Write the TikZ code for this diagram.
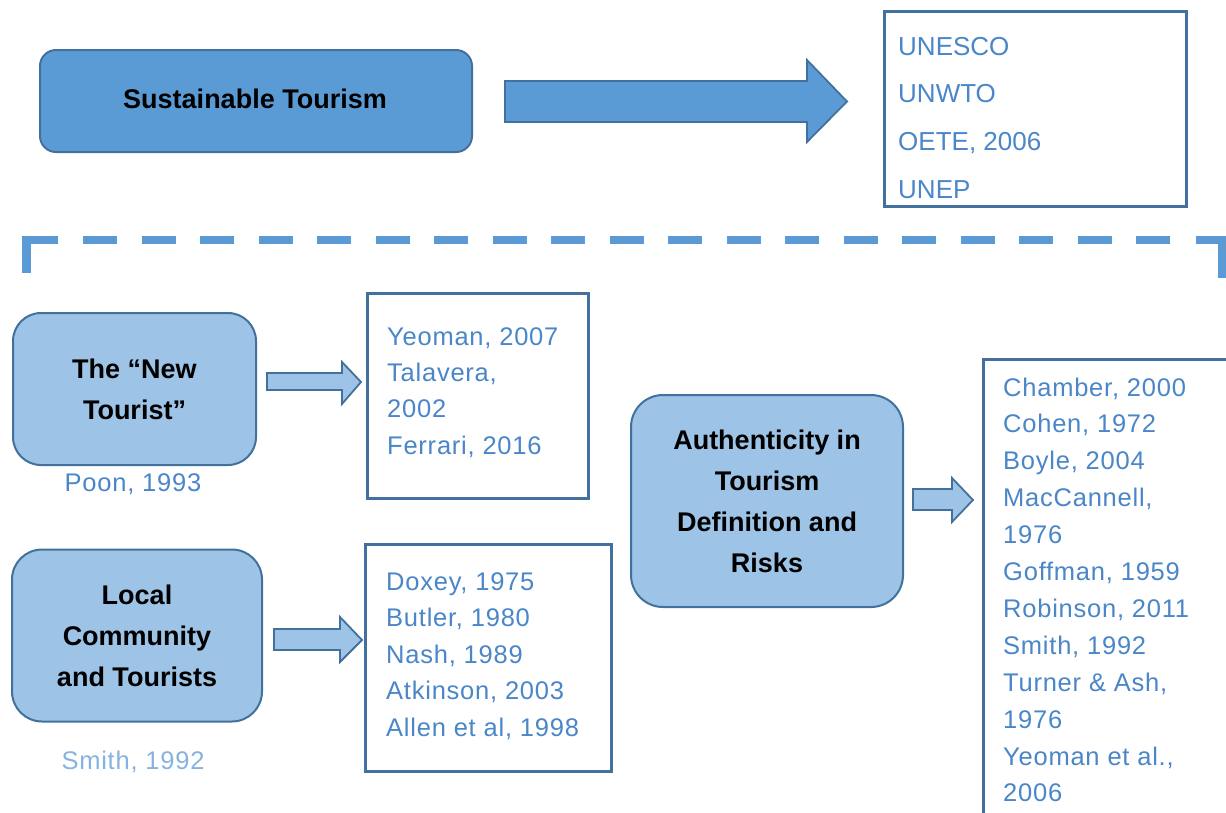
\documentclass[tikz,border=0pt]{standalone}
\usepackage{fontspec}
\setmainfont{Liberation Sans}
\definecolor{edge}{HTML}{41719C}
\definecolor{mid}{HTML}{5B9BD5}
\definecolor{light}{HTML}{9DC3E6}
\definecolor{txtblue}{HTML}{4A86C8}
\definecolor{txtlight}{HTML}{86B2E0}
\begin{document}
\begin{tikzpicture}[x=1pt,y=-1pt,
  rbox/.style={draw=edge, line width=2pt, fill=light, align=center, inner sep=0pt,
    font=\bfseries\fontsize{27}{41}\selectfont},
  lbox/.style={draw=edge, line width=2.5pt, fill=white, anchor=north west, inner sep=0pt},
  lst/.style={anchor=base west, inner sep=0pt, text=txtblue, font=\fontsize{25.5}{30}\selectfont\addfontfeature{LetterSpace=3}},
  cite/.style={inner sep=0pt, font=\fontsize{25.5}{30}\selectfont\addfontfeature{LetterSpace=3}},
  barrow/.style={draw=edge, line width=1.8pt, fill=light, line join=miter},
  dashline/.style={draw=mid, line width=8.5pt}]
\useasboundingbox (0,0) rectangle (1226,812);
\clip (0,0) rectangle (1226,812);

% top row
\node[rbox, fill=mid, rounded corners=16pt, minimum width=432pt, minimum height=102pt] (st) at (256,101) {};
\node[inner sep=0pt, anchor=base, font=\bfseries\fontsize{27}{41}\selectfont] (stt) at (255,108) {Sustainable Tourism};
\draw[barrow, fill=mid] (505,81) -- (807,81) -- (807,60) -- (847,101.5) -- (807,142) -- (807,122) -- (505,122) -- cycle;
\node[lbox, minimum width=302pt, minimum height=195pt] (un) at (883,10) {};
\foreach \t [count=\i] in {UNESCO, UNWTO, {OETE, 2006}, UNEP}
  \node[lst, font=\fontsize{26}{30}\selectfont] (un\i) at (898,{55+(\i-1)*47.8}) {\t};

% dashed bracket
\coordinate (dl0) at (26.5,273);
\coordinate (dl1) at (26.5,240);
\coordinate (dl2) at (58,240);
\coordinate (dm1) at (83,240);
\coordinate (dm2) at (1170,240);
\coordinate (dr1) at (1196,240);
\coordinate (dr2) at (1222,240);
\coordinate (dr3) at (1222,278);
\draw[dashline, line join=miter] (dl0) -- (dl1) -- (dl2);
\draw[dashline, dash pattern=on 34pt off 24.5pt] (dm1) -- (dm2);
\draw[dashline, line join=miter] (dr1) -- (dr2) -- (dr3);

% New tourist
\node[rbox, rounded corners=28pt, minimum width=243pt, minimum height=152pt] (nt) at (134.5,389) {The “New\\Tourist”};
\node[cite, text=txtblue] (poon) at (133,484) {Poon, 1993};
\draw[barrow] (267,373) -- (342,373) -- (342,362) -- (361,382) -- (342,404) -- (342,390) -- (267,390) -- cycle;
\node[lbox, minimum width=221pt, minimum height=205pt] (yb) at (366,292) {};
\foreach \t [count=\i] in {{Yeoman, 2007}, {Talavera,}, 2002, {Ferrari, 2016}}
  \node[lst] (ye\i) at (387,{345+(\i-1)*36.4}) {\t};

% Local community
\node[rbox, rounded corners=30pt, minimum width=250pt, minimum height=172pt] (lc) at (137,635.5) {Local\\Community\\and Tourists};
\node[cite, text=txtlight] (smith) at (133,762) {Smith, 1992};
\draw[barrow] (274,629) -- (340,629) -- (340,617) -- (362,640) -- (340,662) -- (340,650) -- (274,650) -- cycle;
\node[lbox, minimum width=246pt, minimum height=227pt] (db) at (364,543) {};
\foreach \t [count=\i] in {{Doxey, 1975}, {Butler, 1980}, {Nash, 1989}, {Atkinson, 2003}, {Allen et al, 1998}}
  \node[lst] (dx\i) at (386,{590+(\i-1)*36.6}) {\t};

% Authenticity
\node[rbox, rounded corners=32pt, minimum width=272pt, minimum height=212pt] (au) at (767,501) {Authenticity in\\Tourism\\Definition and\\Risks};
\draw[barrow] (913,489) -- (952,489) -- (952,478) -- (973,500) -- (952,522) -- (952,510) -- (913,510) -- cycle;
\node[lbox, minimum width=270pt, minimum height=480pt] (cb) at (982,358) {};
\foreach \t [count=\i] in {{Chamber, 2000}, {Cohen, 1972}, {Boyle, 2004}, {MacCannell,}, 1976, {Goffman, 1959}, {Robinson, 2011}, {Smith, 1992}, {Turner \& Ash,}, 1976, {Yeoman et al.,}, 2006}
  \node[lst] (ch\i) at (1003,{396+(\i-1)*36.9}) {\t};
\end{tikzpicture}
\end{document}
